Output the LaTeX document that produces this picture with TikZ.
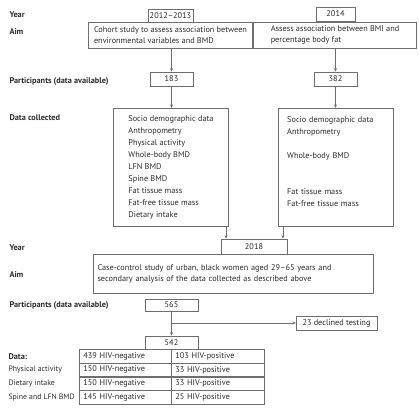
\documentclass[tikz,border=0pt]{standalone}
\usepackage{fontspec}
\setmainfont{PT Sans}
\usetikzlibrary{arrows.meta}

\definecolor{linegray}{HTML}{6E6E6E}
\definecolor{txtgray}{HTML}{2B2B2B}

\begin{document}
\begin{tikzpicture}[x=1bp, y=-1bp, >={Stealth[length=3.5bp,width=3bp]},
    every node/.style={text=txtgray, font=\fontsize{8.3}{11}\selectfont},
    rowlbl/.style={anchor=west, font=\fontsize{8.3}{9}\selectfont\bfseries},
    sublbl/.style={anchor=west, font=\fontsize{7.8}{9}\selectfont},
    box/.style={draw=linegray, line width=0.6bp, inner sep=0pt},
    cell/.style={box, anchor=north west, minimum height=13.75, align=left, inner xsep=4},
    arr/.style={->, draw=linegray, line width=0.6bp}]
    \useasboundingbox (0,0) rectangle (419,408);

    % ===== row labels =====
    \node[rowlbl] (yearA) at (6, 15) {Year};
    \node[rowlbl] (aimA) at (6, 32) {Aim};
    \node[rowlbl] (partA) at (6, 81) {Participants (data available)};
    \node[rowlbl] (collA) at (6, 118) {Data collected};
    \node[rowlbl] (yearB) at (6, 248) {Year};
    \node[rowlbl] (aimB) at (6, 275) {Aim};
    \node[rowlbl] (partB) at (6, 305) {Participants (data available)};

    % ===== 2012--2013 cohort =====
    \node[box, minimum width=45, minimum height=13] (y1213) at (170.5, 15.5) {2012--2013};
    \node[box, align=left, minimum width=165, minimum height=26] (aim1) at (170.5, 35)
        {Cohort study to assess association between\\environmental variables and BMD};
    \node[box, minimum width=43, minimum height=14] (n183) at (171.5, 79) {183};
    \node[box, align=left, minimum width=116, minimum height=119, font=\fontsize{8.3}{12}\selectfont] (data1) at (171, 167.5)
        {Socio demographic data\\Anthropometry\\Physical activity\\Whole-body BMD\\LFN BMD\\Spine BMD\\Fat tissue mass\\Fat-free tissue mass\\Dietary intake};

    % ===== 2014 cohort =====
    \node[box, minimum width=39, minimum height=14] (y14) at (335.5, 14) {2014};
    \node[box, align=left, minimum width=164, minimum height=26] (aim2) at (335, 35)
        {Assess association between BMI and\\percentage body fat};
    \node[box, minimum width=43, minimum height=14] (n382) at (335.5, 79) {382};
    \node[box, align=left, text width=98, inner xsep=9, minimum height=119, font=\fontsize{8.3}{12}\selectfont] (data2) at (336, 167.5)
        {Socio demographic data\\Anthropometry\\\mbox{}\\Whole-body BMD\\\mbox{}\\\mbox{}\\Fat tissue mass\\Fat-free tissue mass\\\mbox{}};

    % ===== 2018 study =====
    \node[box, minimum width=66, minimum height=15] (y18) at (254, 246.5) {2018};
    \node[box, align=left, text width=273, inner xsep=4, minimum height=39] (aim3) at (233.5, 273.5)
        {Case-control study of urban, black women aged 29--65 years and\\secondary analysis of the data collected as described above};
    \node[box, minimum width=53, minimum height=12] (n565) at (171.5, 305) {565};
    \node[box, minimum width=81, minimum height=14] (decl) at (336.5, 323) {23 declined testing};
    \node[box, minimum width=53, minimum height=13] (n542) at (171.5, 342.5) {542};

    % table of HIV status
    \foreach \i/\lbl/\nn/\np in {0/{\fontsize{8.3}{9}\selectfont\bfseries Data:}/439/103, 1/Physical activity/150/33,
                                 2/Dietary intake/150/33, 3/Spine and LFN BMD/145/25} {
        \node[cell, text width=84] (neg\i) at (79, 349+13.75*\i) {\nn\ HIV-negative};
        \node[cell, text width=85] (pos\i) at (171, 349+13.75*\i) {\np\ HIV-positive};
        \node[sublbl] (dat\i) at (5, 0 |- neg\i.west) {\lbl};
    }

    % ===== connectors =====
    \draw[arr] (aim1.south -| n183) -- (n183);
    \draw[arr] (n183) -- (n183 |- data1.north);
    \draw[arr] (aim2.south -| n382) -- (n382);
    \draw[arr] (n382) -- (n382 |- data2.north);
    \draw[arr] ([xshift=-3]data1.south east) -- ([xshift=-3]data1.south east |- y18.north);
    \draw[arr] ([xshift=5]data2.south west) -- ([xshift=5]data2.south west |- y18.north);
    \draw[arr] (n565) -- (n542);
    \draw[arr] (n565 |- decl.west) -- (decl);
\end{tikzpicture}
\end{document}
